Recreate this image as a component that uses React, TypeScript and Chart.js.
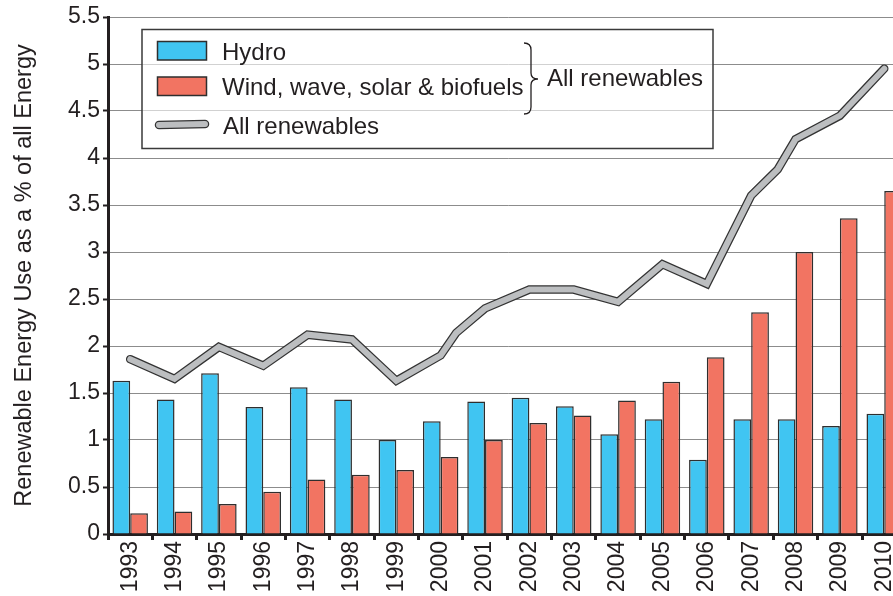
import React, { useEffect, useRef } from 'react';
import { Chart, registerables } from 'chart.js';

Chart.register(...registerables);

// ---- Data ----
const years = ['1993', '1994', '1995', '1996', '1997', '1998', '1999', '2000', '2001', '2002', '2003', '2004', '2005', '2006', '2007', '2008', '2009', '2010'];
const hydro = [1.63, 1.43, 1.71, 1.35, 1.56, 1.43, 1.0, 1.2, 1.41, 1.45, 1.36, 1.06, 1.22, 0.79, 1.22, 1.22, 1.15, 1.28];
const windWaveSolarBiofuels = [0.22, 0.24, 0.32, 0.45, 0.58, 0.63, 0.68, 0.82, 1.0, 1.18, 1.26, 1.42, 1.62, 1.88, 2.36, 3.0, 3.36, 3.65];
const allRenewablesYears = [1993, 1994, 1995, 1996, 1997, 1998, 1999, 2000, 2000.35, 2001, 2002, 2003, 2004, 2005, 2006, 2007, 2007.6, 2008, 2009, 2010];
const allRenewablesValues = [1.86, 1.65, 1.99, 1.79, 2.12, 2.07, 1.63, 1.9, 2.14, 2.4, 2.6, 2.6, 2.47, 2.87, 2.66, 3.6, 3.88, 4.2, 4.45, 4.95];
const legendLabels = ['Hydro', 'Wind, wave, solar & biofuels', 'All renewables'];
const braceLabel = 'All renewables';
const yAxisTitle = 'Renewable Energy Use as a % of all Energy';

// ---- Styles ----
const HYDRO = '#40c5f2';
const WIND = '#f27462';
const LINE_GRAY = '#bcbec0';
const DARK = '#231f20';
const BAR_BORDER = '#2e2e2e';
const FONT = 'Arial, "Liberation Sans", Helvetica, sans-serif';

const legendPlugin = {
  id: 'customLegend',
  afterDraw(chart: any) {
    const ctx = chart.ctx as CanvasRenderingContext2D;
    ctx.save();
    // box
    ctx.fillStyle = 'rgba(255,255,255,0.6)';
    ctx.fillRect(142, 29.5, 571, 119);
    ctx.strokeStyle = '#3a3a3a';
    ctx.lineWidth = 1.5;
    ctx.strokeRect(142, 29.5, 571, 119);

    // swatches
    ctx.lineWidth = 1.5;
    ctx.strokeStyle = BAR_BORDER;
    ctx.fillStyle = HYDRO;
    ctx.fillRect(157.5, 41.5, 49, 18.5);
    ctx.strokeRect(157.5, 41.5, 49, 18.5);
    ctx.fillStyle = WIND;
    ctx.fillRect(157.5, 77, 49, 18.5);
    ctx.strokeRect(157.5, 77, 49, 18.5);

    // line swatch
    ctx.lineCap = 'round';
    ctx.beginPath();
    ctx.moveTo(159, 125);
    ctx.lineTo(205, 124);
    ctx.strokeStyle = '#333333';
    ctx.lineWidth = 8.5;
    ctx.stroke();
    ctx.strokeStyle = LINE_GRAY;
    ctx.lineWidth = 6;
    ctx.stroke();

    // texts
    ctx.fillStyle = DARK;
    ctx.font = '24px ' + FONT;
    ctx.textAlign = 'left';
    ctx.textBaseline = 'alphabetic';
    ctx.fillText(legendLabels[0], 222, 60);
    ctx.fillText(legendLabels[1], 222, 95);
    ctx.fillText(legendLabels[2], 223, 134);
    ctx.fillText(braceLabel, 547, 86);

    // brace
    const x0 = 524, xm = 531, xt = 538, top = 43, mid = 79, bot = 114;
    ctx.beginPath();
    ctx.moveTo(x0, top);
    ctx.quadraticCurveTo(xm, top, xm, top + 7);
    ctx.lineTo(xm, mid - 6);
    ctx.quadraticCurveTo(xm, mid, xt, mid);
    ctx.quadraticCurveTo(xm, mid, xm, mid + 6);
    ctx.lineTo(xm, bot - 7);
    ctx.quadraticCurveTo(xm, bot, x0, bot);
    ctx.strokeStyle = DARK;
    ctx.lineWidth = 1.3;
    ctx.lineCap = 'butt';
    ctx.stroke();
    ctx.restore();
  },
};

export default function App() {
  const canvasRef = useRef<HTMLCanvasElement | null>(null);

  useEffect(() => {
    const canvas = canvasRef.current;
    if (!canvas) return;
    const firstYear = Number(years[0]);
    // category-scale index positions (fractional for the in-between kinks)
    const linePoints = allRenewablesYears.map((yr, i) => ({ x: yr - firstYear, y: allRenewablesValues[i] }));
    const lineCommon = {
      type: 'line',
      data: linePoints,
      parsing: false,
      normalized: true,
      xAxisID: 'x',
      yAxisID: 'y',
      grouped: false,
      borderCapStyle: 'round',
      borderJoinStyle: 'miter',
      pointRadius: 0,
      tension: 0,
      fill: false,
    };
    const chart = new Chart(canvas, {
      type: 'bar',
      data: {
        labels: years,
        datasets: [
          {
            type: 'bar',
            label: legendLabels[0],
            data: hydro,
            xAxisID: 'x',
            yAxisID: 'y',
            backgroundColor: HYDRO,
            borderColor: BAR_BORDER,
            borderWidth: 1.5,
            categoryPercentage: 0.8,
            barPercentage: 1.0,
            order: 3,
          },
          {
            type: 'bar',
            label: legendLabels[1],
            data: windWaveSolarBiofuels,
            xAxisID: 'x',
            yAxisID: 'y',
            backgroundColor: WIND,
            borderColor: BAR_BORDER,
            borderWidth: 1.5,
            categoryPercentage: 0.8,
            barPercentage: 1.0,
            order: 3,
          },
          { ...lineCommon, label: 'outline', borderColor: '#333333', borderWidth: 8.5, order: 2 } as any,
          { ...lineCommon, label: legendLabels[2], borderColor: LINE_GRAY, borderWidth: 6, order: 1 } as any,
        ],
      },
      options: {
        responsive: false,
        animation: false,
        devicePixelRatio: 1,
        layout: { padding: { top: 17, right: 6, left: 0, bottom: 0 } },
        plugins: {
          legend: { display: false },
          tooltip: { enabled: false },
          title: { display: false },
        },
        scales: {
          x: {
            type: 'category',
            offset: true,
            grid: {
              drawOnChartArea: false,
              drawTicks: true,
              offset: true,
              tickLength: 6,
              tickColor: DARK,
              tickWidth: 3,
            },
            border: { display: true, color: DARK, width: 3 },
            ticks: {
              minRotation: 90,
              maxRotation: 90,
              autoSkip: false,
              padding: 1,
              color: DARK,
              font: { family: FONT, size: 23 },
            },
            afterFit: (s: any) => {
              s.height = 62;
            },
          },
          y: {
            position: 'left',
            min: 0,
            max: 5.5,
            ticks: {
              stepSize: 0.5,
              padding: 3,
              color: DARK,
              font: { family: FONT, size: 23 },
              callback: (v: any) => String(Math.round(Number(v) * 10) / 10),
            },
            grid: {
              color: '#8c8c8c',
              lineWidth: 1,
              tickColor: DARK,
              tickLength: 5,
              tickWidth: 2,
            },
            border: { display: true, color: DARK, width: 3 },
            title: {
              display: true,
              text: yAxisTitle,
              color: DARK,
              font: { family: FONT, size: 23.5, weight: 'normal' },
              padding: { top: 10, bottom: 0 },
            },
            afterFit: (s: any) => {
              s.width = 108;
            },
          },
        },
      } as any,
      plugins: [legendPlugin],
    });
    return () => chart.destroy();
  }, []);

  return (
    <div
      style={{
        position: 'fixed',
        left: 0,
        top: 0,
        width: 893,
        height: 596,
        overflow: 'hidden',
        background: '#ffffff',
      }}
    >
      <canvas ref={canvasRef} width={913} height={596} style={{ display: 'block' }} />
    </div>
  );
}
